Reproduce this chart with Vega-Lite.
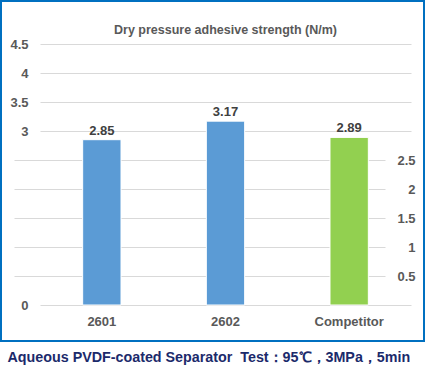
{
  "$schema": "https://vega.github.io/schema/vega-lite/v6.json",
  "width": 423,
  "height": 340,
  "autosize": {"type": "none"},
  "padding": {"left": 1, "top": 1, "right": 2, "bottom": 31},
  "background": "white",
  "config": {
    "view": {"stroke": "#0070C0", "strokeWidth": 2},
    "font": "Liberation Sans"
  },
  "title": {
    "text": "Dry pressure adhesive strength (N/m)",
    "offset": -35,
    "dx": 13,
    "fontSize": 12.5,
    "fontWeight": "bold",
    "color": "#595959",
    "font": "Liberation Sans"
  },
  "data": {
    "values": [
      {"name": "2601", "value": 2.85},
      {"name": "2602", "value": 3.17},
      {"name": "Competitor", "value": 2.89}
    ]
  },
  "encoding": {
    "x": {
      "field": "name",
      "type": "nominal",
      "sort": null,
      "scale": {"range": [39, 410], "paddingInner": 0.69, "paddingOuter": 0.345},
      "axis": {
        "orient": "bottom",
        "offset": -36,
        "domain": false,
        "ticks": false,
        "labelAngle": 0,
        "labelPadding": 10,
        "labelFontSize": 13,
        "labelFontWeight": "bold",
        "labelColor": "#595959",
        "title": "Aqueous PVDF-coated Separator\u00a0\u00a0Test：95℃，3MPa，5min",
        "titleFontSize": 14.3,
        "titleFontWeight": "bold",
        "titleColor": "#1B2A6B",
        "titleX": 6,
        "titleAlign": "left",
        "titlePadding": 22
      }
    }
  },
  "layer": [
    {
      "mark": {"type": "bar", "stroke": "white", "strokeWidth": 1},
      "encoding": {
        "y": {
          "field": "value",
          "type": "quantitative",
          "scale": {"domain": [0, 4.5], "range": [304, 43], "nice": false},
          "axis": {
            "orient": "left",
            "values": [0, 3, 3.5, 4, 4.5],
            "format": ".1~f",
            "offset": -39,
            "domain": false,
            "ticks": false,
            "labelPadding": 12,
            "labelFontSize": 13,
            "labelFontWeight": "bold",
            "labelColor": "#595959",
            "grid": true,
            "gridColor": "#D9D9D9",
            "title": null
          }
        },
        "color": {
          "field": "name",
          "type": "nominal",
          "scale": {"domain": ["2601", "2602", "Competitor"], "range": ["#5B9BD5", "#5B9BD5", "#92D050"]},
          "legend": null
        }
      }
    },
    {
      "mark": {"type": "text", "dy": -9, "fontSize": 13, "fontWeight": "bold", "color": "#404040", "font": "Liberation Sans"},
      "encoding": {
        "y": {
          "field": "value",
          "type": "quantitative",
          "scale": {"domain": [0, 4.5], "range": [304, 43], "nice": false},
          "axis": {
            "orient": "right",
            "values": [0.5, 1, 1.5, 2, 2.5],
            "format": ".1~f",
            "offset": -13,
            "domain": false,
            "ticks": false,
            "labelAlign": "right",
            "labelPadding": 4,
            "labelFontSize": 13,
            "labelFontWeight": "bold",
            "labelColor": "#595959",
            "grid": true,
            "gridColor": "#D9D9D9",
            "title": null
          }
        },
        "text": {"field": "value", "type": "quantitative", "format": ".2f"}
      }
    }
  ],
  "resolve": {"scale": {"y": "independent"}, "axis": {"y": "independent"}}
}
